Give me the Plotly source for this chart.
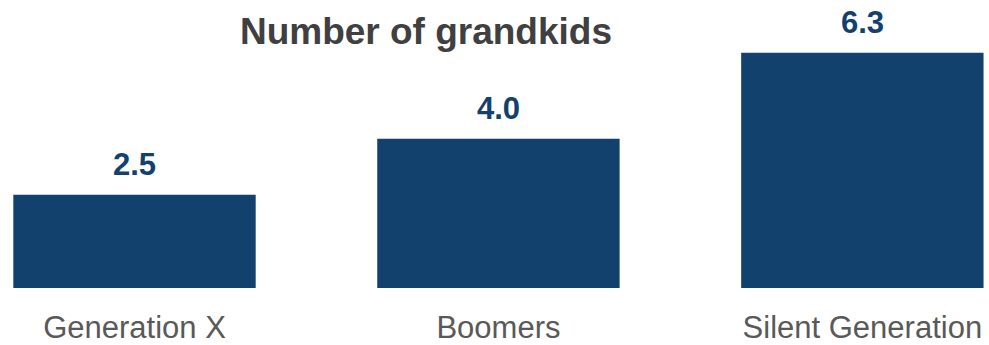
import plotly.graph_objects as go

# Average number of grandchildren by generation
generations = ["Generation X", "Boomers", "Silent Generation"]
grandkids = [2.5, 4.0, 6.3]

BAR_COLOR = "#12416E"
FONT = "Liberation Sans, Arial, sans-serif"

fig = go.Figure(
    go.Bar(
        x=generations,
        y=grandkids,
        marker=dict(color=BAR_COLOR, line=dict(width=0)),
        hoverinfo="skip",
    )
)

# Value labels above each bar
for g, v in zip(generations, grandkids):
    fig.add_annotation(
        x=g, y=v, xref="x", yref="y",
        text=f"<b>{v:.1f}</b>",
        showarrow=False,
        yanchor="middle",
        yshift=30,
        font=dict(family=FONT, size=31, color=BAR_COLOR),
    )

fig.update_layout(
    width=989,
    height=345,
    margin=dict(l=0, r=0, t=0, b=54),
    paper_bgcolor="white",
    plot_bgcolor="white",
    bargap=0.334,
    showlegend=False,
    title=dict(
        text="<b>Number of grandkids</b>",
        x=0.4307, xanchor="center",
        y=0.91, yanchor="middle", yref="container",
        font=dict(family=FONT, size=37, color="#404040"),
    ),
    xaxis=dict(
        range=[-0.3696, 2.348],
        showgrid=False, zeroline=False, showline=False,
        ticks="",
        ticklabelstandoff=18,
        tickfont=dict(family=FONT, size=31, color="#595959"),
        fixedrange=True,
    ),
    yaxis=dict(
        range=[0, 7.715],
        visible=False,
        fixedrange=True,
    ),
)

fig.write_html("out.html")
